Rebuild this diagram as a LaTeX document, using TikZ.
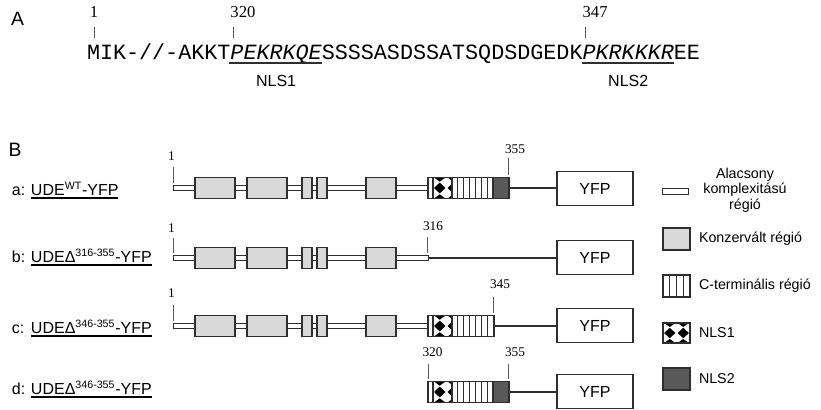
\documentclass[tikz,border=0pt]{standalone}
\usepackage{fontspec}
\setmainfont{Liberation Sans}
\newfontfamily\serifnum{Liberation Serif}
\newfontfamily\monoseq{Liberation Mono}
\usetikzlibrary{calc}
\definecolor{cons}{HTML}{D9D9D9}
\definecolor{nlstwo}{HTML}{595959}
\definecolor{edgec}{HTML}{2E2E2E}
% NLS1 texture in a unit cell (1 unit wide = 27px), clipped to width #1
\newcommand\nlspattern[1]{%
  \fill[white] (0,0) rectangle (#1,1);
  \clip (0,0) rectangle (#1,1);
  \fill[black] (0.25,0.24) -- (0.46,0.5) -- (0.25,0.76) -- (0.04,0.5) -- cycle;
  \fill[black] (0.75,0.24) -- (0.96,0.5) -- (0.75,0.76) -- (0.54,0.5) -- cycle;
  \foreach \cx in {0.25,0.75} {
    \fill[black] (\cx-0.21,0) -- (\cx,0.2) -- (\cx+0.21,0) -- cycle;
    \fill[black] (\cx-0.21,1) -- (\cx,0.8) -- (\cx+0.21,1) -- cycle;
  }
}
\begin{document}
\begin{tikzpicture}[x=0.75pt,y=-0.75pt,
  every node/.style={inner sep=0pt, outer sep=0pt},
  edge/.style={draw=edgec, line width=0.8pt},
  dom/.style={draw=edgec, line width=0.8pt, fill=cons},
  bb/.style={draw=edgec, line width=0.7pt, fill=white},
  link/.style={draw=edgec, line width=0.8pt},
  tickline/.style={draw=edgec!80, line width=0.6pt},
  yfp/.style={draw=edgec, line width=0.8pt, fill=white, minimum width=57pt, minimum height=25.5pt, font=\fontsize{12}{14}\selectfont},
  numA/.style={font=\serifnum\fontsize{12.5}{14}\selectfont},
  numB/.style={font=\serifnum\fontsize{10}{12}\selectfont},
  lbl/.style={font=\fontsize{12}{14}\selectfont},
  leg/.style={font=\fontsize{10.7}{11.6}\selectfont},
  panel/.style={font=\fontsize{14.5}{16}\selectfont},
  seq/.style={font=\monoseq\fontsize{16.3}{18}\selectfont, anchor=base west},
]
\useasboundingbox (0,0) rectangle (821,410);

% ---------------- Panel A ----------------
\node[panel] (lA) at (17.5,18.5) {A};
\node[seq] (s1) at (87,60) {MIK-//-AKKT};
\node[seq] (n1) at (s1.base east) {\itshape PEKRKQE};
\node[seq] (s2) at (n1.base east) {SSSSASDSSATSQDSDGEDK};
\node[seq] (n2) at (s2.base east) {\itshape PKRKKKR};
\node[seq] (s3) at (n2.base east) {EE};

\node[numA, anchor=base] (pA1) at ($(s1.base west)+(7,-42)$) {1};
\draw[tickline] ($(s1.base west)+(7,-33)$) -- ($(s1.base west)+(7,-22)$);
\node[numA, anchor=base west] (pA320) at ($(n1.base west)+(0,-42)$) {320};
\draw[tickline] ($(n1.base west)+(3,-33)$) -- ($(n1.base west)+(3,-22)$);
\node[numA, anchor=base west] (pA347) at ($(n2.base west)+(0,-42)$) {347};
\draw[tickline] ($(n2.base west)+(3,-33)$) -- ($(n2.base west)+(3,-22)$);

\draw[edge] ($(n1.base west)+(-1,3)$) -- ($(n1.base east)+(0,3)$);
\draw[edge] ($(n2.base west)+(-1,3)$) -- ($(n2.base east)+(0,3)$);
\node[lbl, anchor=base] (nls1) at ($(n1.base)+(0,27)$) {NLS1};
\node[lbl, anchor=base] (nls2) at ($(n2.base)+(0,27)$) {NLS2};

% ---------------- Panel B ----------------
\node[panel] (lB) at (15,149.5) {B};

\node[lbl, anchor=base west] (pa) at (12,195) {a:};
\node[lbl, anchor=base west] (la) at (31,195) {UDE\textsuperscript{WT}-YFP};
\node[lbl, anchor=base west] (pb) at (12,262) {b:};
\node[lbl, anchor=base west] (lb) at (31,262) {UDEΔ\textsuperscript{316-355}-YFP};
\node[lbl, anchor=base west] (pc) at (12,333) {c:};
\node[lbl, anchor=base west] (lc) at (31,333) {UDEΔ\textsuperscript{346-355}-YFP};
\node[lbl, anchor=base west] (pd) at (12,394) {d:};
\node[lbl, anchor=base west] (ld) at (31,394) {UDEΔ\textsuperscript{346-355}-YFP};
\foreach \n in {la,lb,lc,ld}
  \draw[black, line width=1.2pt] ($(\n.base west)+(0,3)$) -- ($(\n.base east)+(0,3)$);

% backbones and conserved domains (rows a, b, c)
\foreach \r in {188,258,326} {
  \draw[bb] (173,\r-2.5) rectangle (428,\r+2.5);
  \foreach \xa/\xb in {195/235,247/287,302/312,317/327,366/396}
    \draw[dom] (\xa,\r-10.5) rectangle (\xb,\r+10.5);
}

% C-terminal blocks
\newcommand\ctermblk[2]{%
  \fill[white] (428,#1-10.5) rectangle (#2,#1+10.5);
  \begin{scope}[shift={(433,#1-10.5)},x=20.25pt,y=-15.75pt]
    \nlspattern{0.7037}
  \end{scope}
  \foreach \xx in {433,452,457.9,463.7,469.6,475.4,481.3,487.1}
    \draw[edge] (\xx,#1-10.5) -- (\xx,#1+10.5);
  \draw[edge] (428,#1-10.5) rectangle (#2,#1+10.5);
}
\ctermblk{188}{509}
\draw[edge, fill=nlstwo] (493,177.5) rectangle (509,198.5);
\ctermblk{326}{494}
\ctermblk{392}{509}
\draw[edge, fill=nlstwo] (493,381.5) rectangle (509,402.5);

% YFP boxes and links
\coordinate (ea) at (509,188);
\coordinate (eb) at (428,258);
\coordinate (ec) at (494,326);
\coordinate (ed) at (509,392);
\node[yfp] (ya) at (595,188.5) {YFP};
\node[yfp] (yb) at (595,257.5) {YFP};
\node[yfp] (yc) at (595,325.5) {YFP};
\node[yfp] (yd) at (595,391.5) {YFP};
\draw[link] (ea) -- (ea -| ya.west);
\draw[link] (eb) -- (eb -| yb.west);
\draw[link] (ec) -- (ec -| yc.west);
\draw[link] (ed) -- (ed -| yd.west);

% position numbers
\node[numB] (a1) at (171.5,156) {1};
\draw[tickline] (173,167) -- (173,183);
\node[numB] (a355) at (515,149) {355};
\draw[tickline] (508,158) -- (508,175);
\node[numB] (b1) at (171.5,228) {1};
\draw[tickline] (173,238) -- (173,253);
\node[numB] (b316) at (433,226) {316};
\draw[tickline] (427,237) -- (427,253);
\node[numB] (c1) at (171.5,293) {1};
\draw[tickline] (173,305) -- (173,321);
\node[numB] (c345) at (500,284) {345};
\draw[tickline] (493,297) -- (493,313);
\node[numB] (d320) at (432.5,352.5) {320};
\draw[tickline] (428,364) -- (428,379);
\node[numB] (d355) at (515,352.5) {355};
\draw[tickline] (508,364) -- (508,379);

% ---------------- Legend ----------------
\draw[bb] (662,188) rectangle (688,194);
\node[leg, align=center] (t1) at (745,190) {Alacsony\\komplexitású\\régió};
\draw[dom] (663,228) rectangle (690,250);
\node[leg, anchor=west] (t2) at (699,239) {Konzervált régió};
\draw[edge, fill=white] (663,275) rectangle (690,297);
\foreach \xx in {669.75,676.5,683.25} \draw[edge] (\xx,275) -- (\xx,297);
\node[leg, anchor=west] (t3) at (699,286) {C-terminális régió};
\begin{scope}[shift={(663,323)},x=20.25pt,y=-15pt]
  \nlspattern{1}
\end{scope}
\draw[edge] (663,323) rectangle (690,343);
\node[leg, anchor=west] (t4) at (699,333) {NLS1};
\draw[edge, fill=nlstwo] (663,368) rectangle (690,390);
\node[leg, anchor=west] (t5) at (699,379) {NLS2};
\end{tikzpicture}
\end{document}
